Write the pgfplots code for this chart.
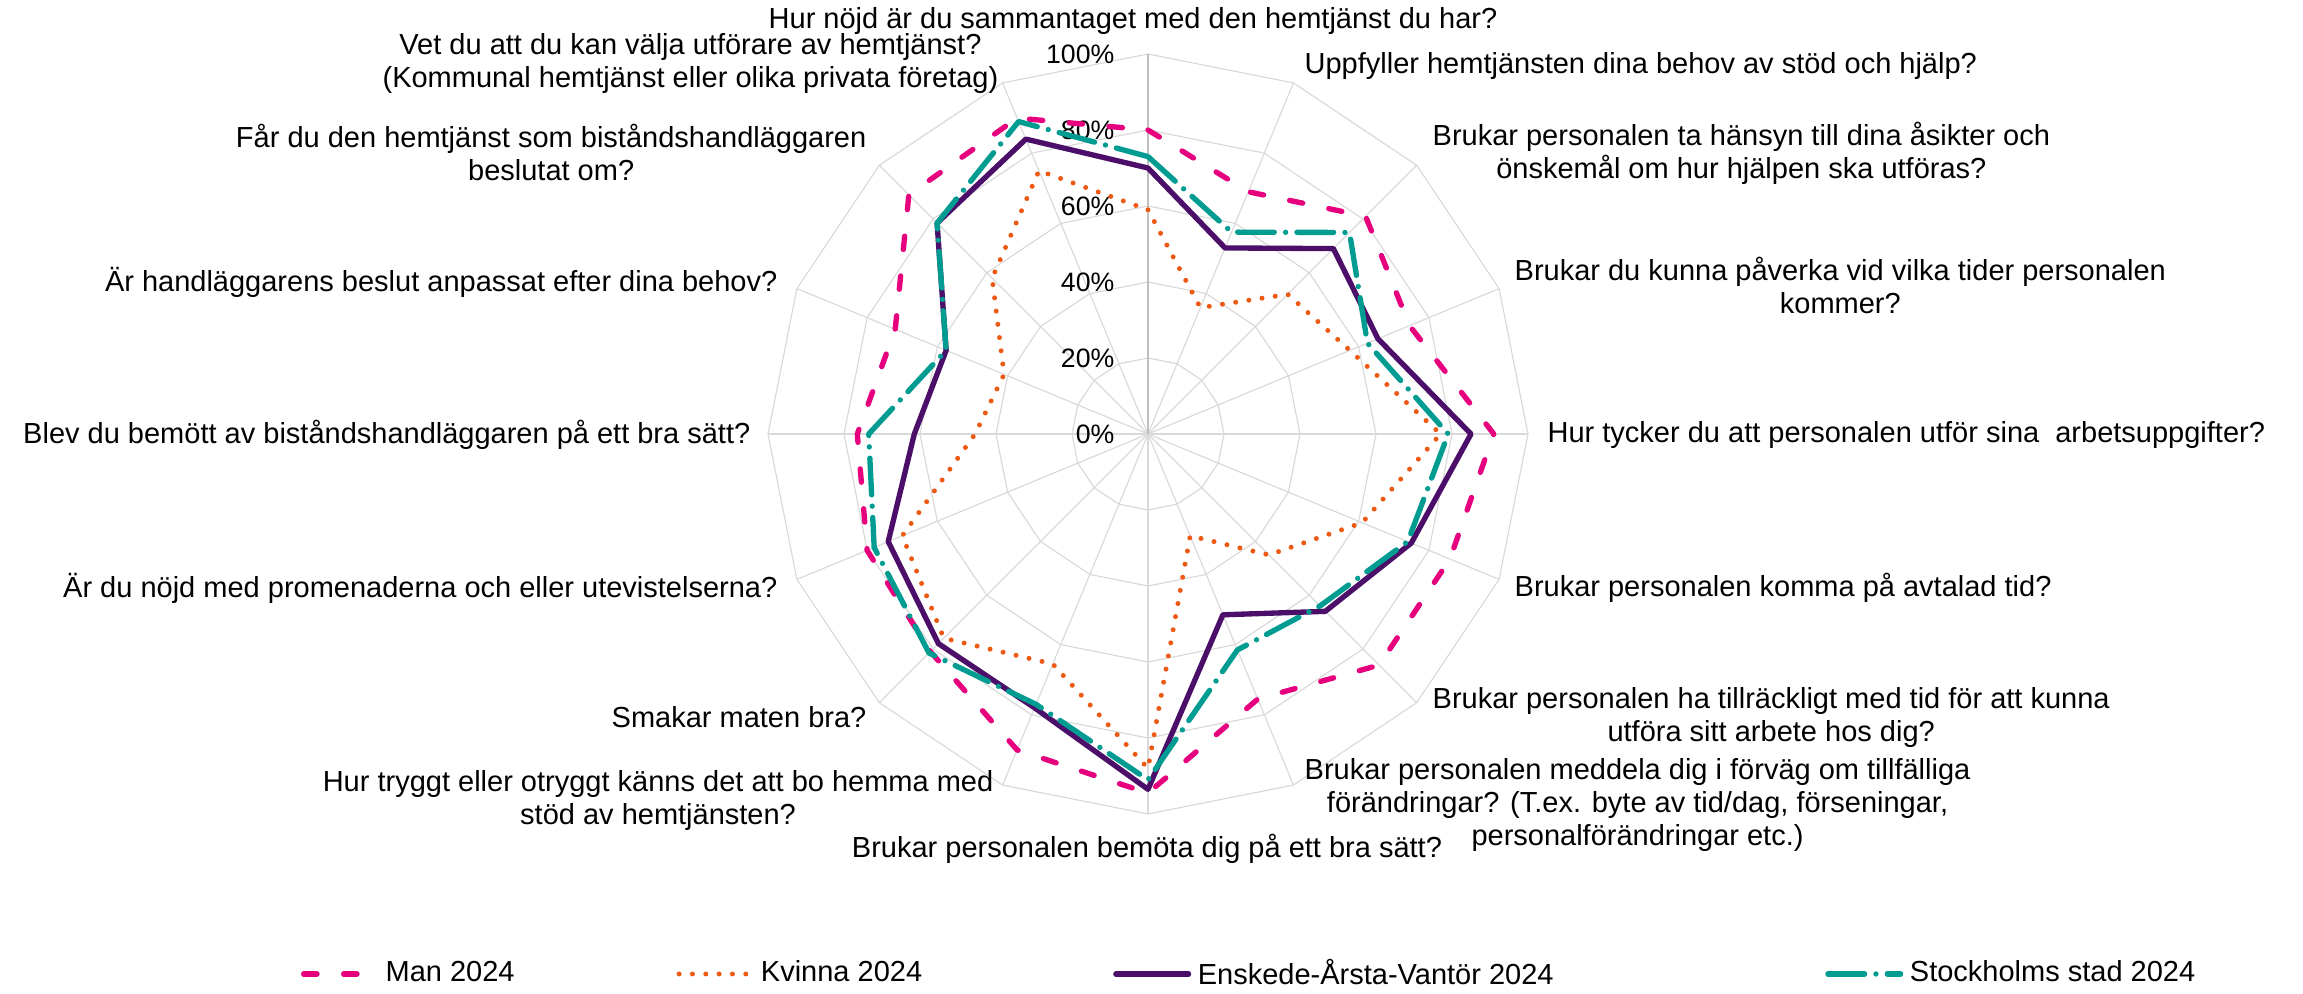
\documentclass[border=0pt]{standalone}
\usepackage{pgfplots}
\pgfplotsset{compat=1.18}
\usepackage{pgfplotstable}
\usepackage{fontspec}
\setmainfont{Liberation Sans}
\definecolor{cman}{RGB}{230,0,126}
\definecolor{ckv}{RGB}{236,90,20}
\definecolor{cen}{RGB}{75,15,105}
\definecolor{cst}{RGB}{0,155,145}
\definecolor{cgrid}{RGB}{217,217,217}
\definecolor{cspoke}{RGB}{191,191,191}

% angle (deg, 90 = top, clockwise categories), values in percent
\pgfplotstableread{
a man kvinna enskede sthlm
90 80 59 70 73
67.5 69 36 53 57.5
45 81 52 69 75
22.5 74.5 57.5 65.5 62.5
0 91 77 85 79
-22.5 86 61 75 74
-45 86 45 66 64
-67.5 75.5 29 51.5 61.5
-90 94.5 88 93.5 91
-112.5 90 65.5 78 77
-135 81 76 78 81.5
-157.5 80 70 74 78
-180 76.5 45.5 61.5 73.5
-202.5 72 41 57.5 57.5
-225 89 58 78.5 78.5
-247.5 90 75 84 89
-270 80 59 70 73
}\data

\begin{document}
\begin{tikzpicture}[every node/.style={inner sep=0pt, font=\fontsize{8.7pt}{9.9pt}\selectfont}]
\useasboundingbox (0,0) rectangle (690.9pt,297.9pt);
\begin{scope}[shift={(344.4pt,167.7pt)}]
  \foreach \r in {22.8,45.6,68.4,91.2,114}{
    \draw[cgrid, line width=0.35pt] (90:\r pt) \foreach \k in {1,...,15}{ -- ({90-22.5*\k}:\r pt)} -- cycle;
  }
  \foreach \k in {1,...,15} \draw[cgrid, line width=0.35pt] (0,0) -- ({90-22.5*\k}:114pt);
  \draw[cspoke, line width=0.6pt] (0,0) -- (90:114pt);
  \foreach \r/\t in {0/0,22.8/20,45.6/40,68.4/60,91.2/80,114/100}
    \node[anchor=east, font=\fontsize{8pt}{9pt}\selectfont] at (-9.9pt,\r pt) {\t\%};
\end{scope}

\begin{axis}[
  at={(344.4pt,167.7pt)}, anchor=center,
  scale only axis, width=228pt, height=228pt,
  xmin=-100, xmax=100, ymin=-100, ymax=100,
  axis lines=none, clip=false,
  data cs=polar,
  legend columns=4,
  legend image code/.code={\draw[#1] (0.8pt,0pt) -- (22.6pt,0pt);},
  legend style={at={(-0.6145,-0.2105)}, anchor=west, draw=none, fill=none,
    inner sep=0pt, outer sep=0pt,
    nodes={inner sep=0pt, anchor=west},
    /tikz/every odd column/.append style={column sep=2pt},
    /tikz/column 2/.style={column sep=48.6pt},
    /tikz/column 4/.style={column sep=57.3pt},
    /tikz/column 6/.style={column sep=81.5pt}},
]
\addplot[cman, line width=1.6pt, line cap=round, line join=round, dash pattern=on 4pt off 8pt] table[x=a, y=man] {\data};
\addlegendentry{Man 2024}
\addplot[ckv, line width=1.5pt, line cap=round, line join=round, dash pattern=on 0pt off 4pt] table[x=a, y=kvinna] {\data};
\addlegendentry{Kvinna 2024}
\addplot[cen, line width=1.6pt, line cap=round, line join=round] table[x=a, y=enskede] {\data};
\addlegendentry{Enskede-Årsta-Vantör 2024}
\addplot[cst, line width=1.6pt, line cap=round, line join=round, dash pattern=on 11pt off 3.4pt on 0pt off 3.4pt] table[x=a, y=sthlm] {\data};
\addlegendentry{Stockholms stad 2024}
\end{axis}

\node[anchor=center] at (339.9pt,291.7pt) {Hur nöjd är du sammantaget med den hemtjänst du har?};
\node[anchor=west] at (391.2pt,278.1pt) {Uppfyller hemtjänsten dina behov av stöd och hjälp?};
\node[anchor=west, align=center] at (429.6pt,252.0pt) {Brukar personalen ta hänsyn till dina åsikter och\\önskemål om hur hjälpen ska utföras?};
\node[anchor=west, align=center] at (454.2pt,212.4pt) {Brukar du kunna påverka vid vilka tider personalen\\kommer?};
\node[anchor=west] at (464.1pt,167.4pt) {Hur tycker du att personalen utför sina~ arbetsuppgifter?};
\node[anchor=west] at (454.2pt,121.5pt) {Brukar personalen komma på avtalad tid?};
\node[anchor=west, align=center] at (429.6pt,82.8pt) {Brukar personalen ha tillräckligt med tid för att kunna\\utföra sitt arbete hos dig?};
\node[anchor=west, align=center] at (391.2pt,56.4pt) {Brukar personalen meddela dig i förväg om tillfälliga\\förändringar? (T.ex. byte av tid/dag, förseningar,\\personalförändringar etc.)};
\node[anchor=center] at (344.1pt,43.2pt) {Brukar personalen bemöta dig på ett bra sätt?};
\node[anchor=east, align=center] at (298.2pt,57.9pt) {Hur tryggt eller otryggt känns det att bo hemma med\\stöd av hemtjänsten?};
\node[anchor=east] at (260.1pt,82.8pt) {Smakar maten bra?};
\node[anchor=east] at (233.4pt,121.5pt) {Är du nöjd med promenaderna och eller utevistelserna?};
\node[anchor=east] at (225.3pt,167.4pt) {Blev du bemött av biståndshandläggaren på ett bra sätt?};
\node[anchor=east] at (233.4pt,213.3pt) {Är handläggarens beslut anpassat efter dina behov?};
\node[anchor=east, align=center] at (260.1pt,252.3pt) {Får du den hemtjänst som biståndshandläggaren\\beslutat om?};
\node[anchor=east, align=center] at (299.7pt,278.7pt) {Vet du att du kan välja utförare av hemtjänst?\\(Kommunal hemtjänst eller olika privata företag)};
\end{tikzpicture}
\end{document}
